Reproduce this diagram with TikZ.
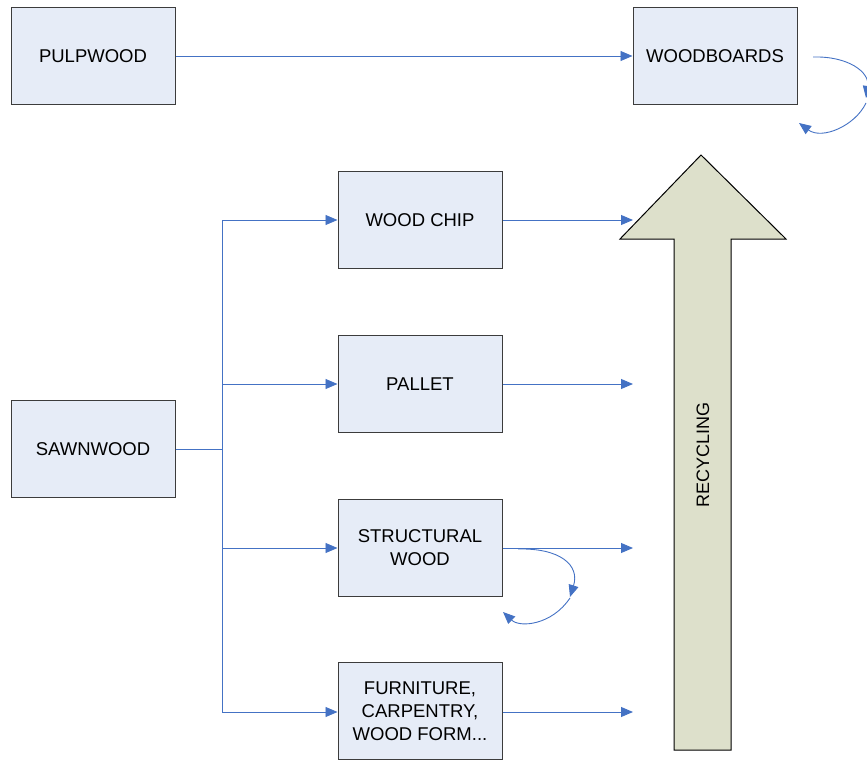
\documentclass[tikz,border=0pt]{standalone}
\usepackage{fontspec}
\setmainfont{Liberation Sans}
\usetikzlibrary{arrows.meta}
\definecolor{boxfill}{RGB}{230,236,247}
\definecolor{boxline}{RGB}{60,60,60}
\definecolor{conn}{RGB}{68,114,196}
\definecolor{bigfill}{RGB}{221,224,203}
\begin{document}
\begin{tikzpicture}[x=1pt,y=-1pt,
  stagebox/.style={draw=boxline,fill=boxfill,line width=1pt,minimum width=164pt,minimum height=97pt,inner sep=0pt,align=center,font=\fontsize{18.5}{23}\selectfont},
  conline/.style={draw=conn,line width=0.9pt},
  conarrow/.style={conline,-{Triangle[length=12pt,width=10pt]}}]
\useasboundingbox (0,0) rectangle (867,762);
% big recycling arrow
\draw[fill=bigfill,draw=black,line width=1pt] (674,750) -- (674,239) -- (620,239) -- (701,155) -- (786,239) -- (731,239) -- (731,750) -- cycle;
\node[rotate=90,font=\fontsize{18}{20}\selectfont] (rec) at (703,455) {RECYCLING};
% boxes
\node[stagebox] (pulp) at (93,56) {PULPWOOD};
\node[stagebox] (wb) at (715,56) {WOODBOARDS};
\node[stagebox] (chip) at (420,220) {WOOD CHIP};
\node[stagebox] (pallet) at (420,384) {PALLET};
\node[stagebox] (sawn) at (93,449) {SAWNWOOD};
\node[stagebox] (struct) at (420,548) {STRUCTURAL\\WOOD};
\node[stagebox] (furn) at (420,711) {FURNITURE,\\CARPENTRY,\\WOOD FORM...};
% coordinates
\coordinate (bj) at (222,449);
\coordinate (b1) at (222,220);
\coordinate (b2) at (222,384);
\coordinate (b3) at (222,548);
\coordinate (b4) at (222,712);
\coordinate (r1) at (633,220);
\coordinate (r2) at (633,384);
\coordinate (r3) at (633,548);
\coordinate (r4) at (633,712);
% connectors
\draw[conarrow] (pulp.east) -- (wb.west);
\draw[conline] (sawn.east) -- (bj);
\draw[conline] (b1) -- (b4);
\draw[conarrow] (b1) -- (chip.west);
\draw[conarrow] (b2) -- (pallet.west);
\draw[conarrow] (b3) -- (struct.west);
\draw[conarrow] (b4) -- (furn.west |- b4);
\draw[conarrow] (chip.east) -- (r1);
\draw[conarrow] (pallet.east) -- (r2);
\draw[conarrow] (struct.east) -- (r3);
\draw[conarrow] (furn.east |- r4) -- (r4);
% woodboards loop
\coordinate (wa) at (813,57);
\coordinate (wbb) at (866,98);
\coordinate (wc) at (866,103);
\coordinate (wd) at (799,123);
\draw[conarrow] (wa) .. controls (848,56) and (870,72) .. (wbb);
\draw[conarrow] (wc) .. controls (855,126) and (822,140) .. (wd);
% structural loop
\coordinate (sa) at (518,549);
\coordinate (sb) at (570,597);
\coordinate (sc) at (570,598);
\coordinate (sd) at (503,612);
\draw[conarrow] (sa) .. controls (560,548) and (580,565) .. (sb);
\draw[conarrow] (sc) .. controls (552,625) and (520,628) .. (sd);
\end{tikzpicture}
\end{document}
